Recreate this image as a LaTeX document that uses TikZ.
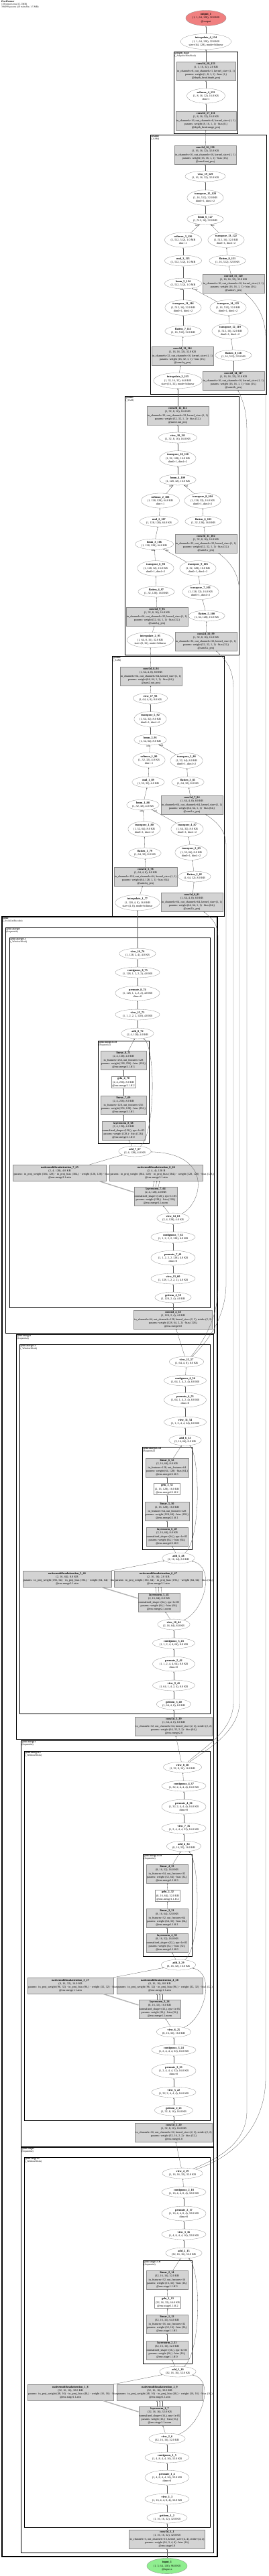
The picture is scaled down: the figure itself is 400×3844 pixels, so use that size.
\documentclass[tikz,border=0pt]{standalone}
\usepackage{fontspec}
\setmainfont{Liberation Serif}
\usetikzlibrary{arrows.meta,shapes.geometric}
\definecolor{gvgray}{HTML}{D3D3D3}
\definecolor{gvline}{HTML}{8C8C8C}
\definecolor{gvred}{HTML}{F08080}
\definecolor{gvgreen}{HTML}{90EE90}
\newcommand{\gfont}{\fontsize{4.2}{5.2}\selectfont}
\newcommand{\lblfont}{\fontsize{3.6}{4.1}\selectfont}

\begin{document}
\begin{tikzpicture}[x=1pt, y=-1pt, every node/.style={font=\gfont},
    opnode/.style={ellipse, draw=gvline, fill=white, line width=0.3pt, inner xsep=1.2pt, inner ysep=1.1pt, align=center},
    modbox/.style={rectangle, draw=gvline, fill=gvgray, line width=0.3pt, inner xsep=1pt, inner ysep=1.6pt, align=center},
    actbox/.style={rectangle, draw=gvline, fill=white, line width=0.3pt, inner xsep=1.5pt, inner ysep=1.4pt, align=center},
    attnbox/.style={modbox, minimum height=24pt},
    cluster/.style={draw=black, line width=1pt},
    clusterlbl/.style={anchor=north west, align=left, inner sep=0.6pt, font=\lblfont},
    edge/.style={-{Latex[length=1.8pt,width=1.5pt]}, line width=0.3pt, draw=black!65},
    bundle/.style={edge, line width=1.4pt, draw=gray!60},
    elbl/.style={font=\lblfont, inner sep=0.2pt}]
    \useasboundingbox (0,0) rectangle (400,3844);

    \node[anchor=north west, align=left, inner sep=0pt, font=\lblfont] (title) at (2,1) {\textbf{PixelFormer}\\136 tensors total (5.5 MB)\\394299 params (all trainable; 1.5 MB)};

    % clusters
    \draw[cluster] (259,77) rectangle (354,199);
    \node[clusterlbl] (c-head) at (259.5,77.5) {\textbf{@depth\_head}\\(\_AdaptiveBinsHead)};
    \draw[cluster] (224,201) rectangle (397,588);
    \node[clusterlbl] (c-sam4) at (224.5,201.5) {\textbf{@sam4}\\(\_SAM)};
    \draw[cluster] (186,591) rectangle (356,977);
    \node[clusterlbl] (c-sam3) at (186.5,591.5) {\textbf{@sam3}\\(\_SAM)};
    \draw[cluster] (167,979) rectangle (334,1367);
    \node[clusterlbl] (c-sam2) at (167.5,979.5) {\textbf{@sam2}\\(\_SAM)};
    \draw[cluster, line width=1.3pt] (3,1368) rectangle (324,3815);
    \node[clusterlbl] (c-enc) at (3.5,1368.5) {\textbf{@enc}\\(\_SwinLiteEncoder)};
    \draw[cluster] (8,1384) rectangle (319,1989);
    \node[clusterlbl] (c-m3) at (8.5,1384.5) {\textbf{@enc.merge3}\\(Sequential)};
    \draw[cluster] (14,1399) rectangle (313,1951);
    \node[clusterlbl] (c-m31) at (14.5,1399.5) {\textbf{@enc.merge3.1}\\(\_WindowBlock)};
    \draw[cluster] (146,1553) rectangle (222,1706);
    \node[clusterlbl] (c-m3ff) at (146.5,1553.5) {\textbf{@enc.merge3.1.ff}\\(Sequential)};
    \draw[cluster] (24,1991) rectangle (318,2595);
    \node[clusterlbl] (c-m2) at (24.5,1991.5) {\textbf{@enc.merge2}\\(Sequential)};
    \draw[cluster] (29,2006) rectangle (313,2557);
    \node[clusterlbl] (c-m21) at (29.5,2006.5) {\textbf{@enc.merge2.1}\\(\_WindowBlock)};
    \draw[cluster] (212,2159) rectangle (286,2312);
    \node[clusterlbl] (c-m2ff) at (212.5,2159.5) {\textbf{@enc.merge2.1.ff}\\(Sequential)};
    \draw[cluster] (31,2597) rectangle (318,3203);
    \node[clusterlbl] (c-m1) at (31.5,2597.5) {\textbf{@enc.merge1}\\(Sequential)};
    \draw[cluster] (36,2613) rectangle (313,3164);
    \node[clusterlbl] (c-m11) at (36.5,2613.5) {\textbf{@enc.merge1.1}\\(\_WindowBlock)};
    \draw[cluster] (213,2767) rectangle (286,2919);
    \node[clusterlbl] (c-m1ff) at (213.5,2767.5) {\textbf{@enc.merge1.1.ff}\\(Sequential)};
    \draw[cluster] (31,3204) rectangle (318,3809);
    \node[clusterlbl] (c-s1) at (31.5,3204.5) {\textbf{@enc.stage1}\\(Sequential)};
    \draw[cluster] (36,3219) rectangle (313,3771);
    \node[clusterlbl] (c-s11) at (36.5,3219.5) {\textbf{@enc.stage1.1}\\(\_WindowBlock)};
    \draw[cluster] (213,3373) rectangle (286,3527);
    \node[clusterlbl] (c-s1ff) at (213.5,3373.5) {\textbf{@enc.stage1.1.ff}\\(Sequential)};

    % head and output
    \node[opnode, fill=gvred] (out1) at (307,27) {\textbf{output\_1}\\(1, 1, 64, 128), 32.0 KB\\@output};
    \node[opnode] (interp4) at (307,62) {\textbf{interpolate\_4\_134}\\(1, 1, 64, 128), 32.0 KB\\size=(64, 128), mode=bilinear};
    \node[modbox] (conv18) at (307,106) {\textbf{conv2d\_18\_133}\\(1, 1, 16, 32), 2.0 KB\\in\_channels=8, out\_channels=1, kernel\_size=(1, 1)\\params: weight (1, 8, 1, 1) · bias (1,)\\@depth\_head.depth\_proj};
    \node[opnode] (softmax4) at (307,143) {\textbf{softmax\_4\_132}\\(1, 8, 16, 32), 16.0 KB\\dim=1};
    \node[modbox] (conv17) at (307,180) {\textbf{conv2d\_17\_131}\\(1, 8, 16, 32), 16.0 KB\\in\_channels=16, out\_channels=8, kernel\_size=(1, 1)\\params: weight (8, 16, 1, 1) · bias (8,)\\@depth\_head.range\_proj};

    % sam4
    \node[modbox] (conv16) at (306,231) {\textbf{conv2d\_16\_130}\\(1, 16, 16, 32), 32.0 KB\\in\_channels=16, out\_channels=16, kernel\_size=(1, 1)\\params: weight (16, 16, 1, 1) · bias (16,)\\@sam4.out\_proj};
    \node[opnode] (view19) at (306,263) {\textbf{view\_19\_129}\\(1, 16, 16, 32), 32.0 KB};
    \node[opnode] (tr15) at (306,295) {\textbf{transpose\_15\_128}\\(1, 16, 512), 32.0 KB\\dim0=1, dim1=2};
    \node[opnode] (bmm6) at (306,327) {\textbf{bmm\_6\_127}\\(1, 512, 16), 32.0 KB};
    \node[opnode] (sm3) at (273,358) {\textbf{softmax\_3\_126}\\(1, 512, 512), 1.0 MB\\dim=-1};
    \node[opnode] (tr13) at (337,358) {\textbf{transpose\_13\_122}\\(1, 512, 16), 32.0 KB\\dim0=1, dim1=2};
    \node[opnode] (mul3) at (273,389) {\textbf{mul\_3\_125}\\(1, 512, 512), 1.0 MB};
    \node[opnode] (fl9) at (339,389) {\textbf{flatten\_9\_121}\\(1, 16, 512), 32.0 KB};
    \node[opnode] (bmm5) at (273,423) {\textbf{bmm\_5\_124}\\(1, 512, 512), 1.0 MB};
    \node[modbox] (conv15) at (348,423) {\textbf{conv2d\_15\_120}\\(1, 16, 16, 32), 32.0 KB\\in\_channels=16, out\_channels=16, kernel\_size=(1, 1)\\params: weight (16, 16, 1, 1) · bias (16,)\\@sam4.v\_proj};
    \node[opnode] (tr11) at (273,459) {\textbf{transpose\_11\_116}\\(1, 512, 16), 32.0 KB\\dim0=1, dim1=2};
    \node[opnode] (tr14) at (340,459) {\textbf{transpose\_14\_123}\\(1, 16, 512), 32.0 KB\\dim0=1, dim1=2};
    \node[opnode] (fl7) at (273,494) {\textbf{flatten\_7\_115}\\(1, 16, 512), 32.0 KB};
    \node[opnode] (tr12) at (343,494) {\textbf{transpose\_12\_119}\\(1, 512, 16), 32.0 KB\\dim0=1, dim1=2};
    \node[modbox] (conv13) at (272,531) {\textbf{conv2d\_13\_114}\\(1, 16, 16, 32), 32.0 KB\\in\_channels=32, out\_channels=16, kernel\_size=(1, 1)\\params: weight (16, 32, 1, 1) · bias (16,)\\@sam4.q\_proj};
    \node[opnode] (fl8) at (348,530) {\textbf{flatten\_8\_118}\\(1, 16, 512), 32.0 KB};
    \node[opnode] (interp3) at (265,568) {\textbf{interpolate\_3\_113}\\(1, 32, 16, 32), 64.0 KB\\size=(16, 32), mode=bilinear};
    \node[modbox] (conv14) at (348,568) {\textbf{conv2d\_14\_117}\\(1, 16, 16, 32), 32.0 KB\\in\_channels=16, out\_channels=16, kernel\_size=(1, 1)\\params: weight (16, 16, 1, 1) · bias (16,)\\@sam4.k\_proj};

    % sam3
    \node[modbox] (conv12) at (265,620) {\textbf{conv2d\_12\_112}\\(1, 32, 8, 16), 16.0 KB\\in\_channels=32, out\_channels=32, kernel\_size=(1, 1)\\params: weight (32, 32, 1, 1) · bias (32,)\\@sam3.out\_proj};
    \node[opnode] (view18) at (265,653) {\textbf{view\_18\_111}\\(1, 32, 8, 16), 16.0 KB};
    \node[opnode] (tr10) at (265,684) {\textbf{transpose\_10\_110}\\(1, 32, 128), 16.0 KB\\dim0=1, dim1=2};
    \node[opnode] (bmm4) at (265,716) {\textbf{bmm\_4\_109}\\(1, 128, 32), 16.0 KB};
    \node[opnode] (sm2) at (239,747) {\textbf{softmax\_2\_108}\\(1, 128, 128), 64.0 KB\\dim=-1};
    \node[opnode] (tr8) at (302,747) {\textbf{transpose\_8\_104}\\(1, 128, 32), 16.0 KB\\dim0=1, dim1=2};
    \node[opnode] (mul2) at (237,778) {\textbf{mul\_2\_107}\\(1, 128, 128), 64.0 KB};
    \node[opnode] (fl6) at (303,778) {\textbf{flatten\_6\_103}\\(1, 32, 128), 16.0 KB};
    \node[opnode] (bmm3) at (230,812) {\textbf{bmm\_3\_106}\\(1, 128, 128), 64.0 KB};
    \node[modbox] (conv11) at (307,811) {\textbf{conv2d\_11\_102}\\(1, 32, 8, 16), 16.0 KB\\in\_channels=32, out\_channels=32, kernel\_size=(1, 1)\\params: weight (32, 32, 1, 1) · bias (32,)\\@sam3.v\_proj};
    \node[opnode] (tr6) at (232,848) {\textbf{transpose\_6\_98}\\(1, 128, 32), 16.0 KB\\dim0=1, dim1=2};
    \node[opnode] (tr9) at (295,848) {\textbf{transpose\_9\_105}\\(1, 32, 128), 16.0 KB\\dim0=1, dim1=2};
    \node[opnode] (fl4) at (233,883) {\textbf{flatten\_4\_97}\\(1, 32, 128), 16.0 KB};
    \node[opnode] (tr7) at (299,883) {\textbf{transpose\_7\_101}\\(1, 128, 32), 16.0 KB\\dim0=1, dim1=2};
    \node[modbox] (conv9) at (234,920) {\textbf{conv2d\_9\_96}\\(1, 32, 8, 16), 16.0 KB\\in\_channels=64, out\_channels=32, kernel\_size=(1, 1)\\params: weight (32, 64, 1, 1) · bias (32,)\\@sam3.q\_proj};
    \node[opnode] (fl5) at (308,919) {\textbf{flatten\_5\_100}\\(1, 32, 128), 16.0 KB};
    \node[opnode] (interp2) at (224,955) {\textbf{interpolate\_2\_95}\\(1, 64, 8, 16), 32.0 KB\\size=(8, 16), mode=bilinear};
    \node[modbox] (conv10) at (307,957) {\textbf{conv2d\_10\_99}\\(1, 32, 8, 16), 16.0 KB\\in\_channels=32, out\_channels=32, kernel\_size=(1, 1)\\params: weight (32, 32, 1, 1) · bias (32,)\\@sam3.k\_proj};

    % sam2
    \node[modbox] (conv8) at (225,1009) {\textbf{conv2d\_8\_94}\\(1, 64, 4, 8), 8.0 KB\\in\_channels=64, out\_channels=64, kernel\_size=(1, 1)\\params: weight (64, 64, 1, 1) · bias (64,)\\@sam2.out\_proj};
    \node[opnode] (view17) at (224,1042) {\textbf{view\_17\_93}\\(1, 64, 4, 8), 8.0 KB};
    \node[opnode] (tr5) at (224,1073) {\textbf{transpose\_5\_92}\\(1, 64, 32), 8.0 KB\\dim0=1, dim1=2};
    \node[opnode] (bmm2) at (224,1104) {\textbf{bmm\_2\_91}\\(1, 32, 64), 8.0 KB};
    \node[opnode] (sm1) at (222,1134) {\textbf{softmax\_1\_90}\\(1, 32, 32), 4.0 KB\\dim=-1};
    \node[opnode] (tr3) at (278,1135) {\textbf{transpose\_3\_86}\\(1, 32, 64), 8.0 KB\\dim0=1, dim1=2};
    \node[opnode] (mul1) at (221,1167) {\textbf{mul\_1\_89}\\(1, 32, 32), 4.0 KB};
    \node[opnode] (fl3) at (280,1167) {\textbf{flatten\_3\_85}\\(1, 64, 32), 8.0 KB};
    \node[opnode] (bmm1) at (213,1201) {\textbf{bmm\_1\_88}\\(1, 32, 32), 4.0 KB};
    \node[modbox] (conv7) at (286,1201) {\textbf{conv2d\_7\_84}\\(1, 64, 4, 8), 8.0 KB\\in\_channels=64, out\_channels=64, kernel\_size=(1, 1)\\params: weight (64, 64, 1, 1) · bias (64,)\\@sam2.v\_proj};
    \node[opnode] (tr1) at (215,1237) {\textbf{transpose\_1\_80}\\(1, 32, 64), 8.0 KB\\dim0=1, dim1=2};
    \node[opnode] (tr4) at (279,1237) {\textbf{transpose\_4\_87}\\(1, 64, 32), 8.0 KB\\dim0=1, dim1=2};
    \node[opnode] (fl1) at (216,1273) {\textbf{flatten\_1\_79}\\(1, 64, 32), 8.0 KB};
    \node[opnode] (tr2) at (285,1272) {\textbf{transpose\_2\_83}\\(1, 32, 64), 8.0 KB\\dim0=1, dim1=2};
    \node[modbox] (conv5) at (217,1308) {\textbf{conv2d\_5\_78}\\(1, 64, 4, 8), 8.0 KB\\in\_channels=128, out\_channels=64, kernel\_size=(1, 1)\\params: weight (64, 128, 1, 1) · bias (64,)\\@sam2.q\_proj};
    \node[opnode] (fl2) at (290,1308) {\textbf{flatten\_2\_82}\\(1, 64, 32), 8.0 KB};
    \node[opnode] (interp1) at (205,1347) {\textbf{interpolate\_1\_77}\\(1, 128, 4, 8), 16.0 KB\\size=(4, 8), mode=bilinear};
    \node[modbox] (conv6) at (286,1346) {\textbf{conv2d\_6\_81}\\(1, 64, 4, 8), 8.0 KB\\in\_channels=64, out\_channels=64, kernel\_size=(1, 1)\\params: weight (64, 64, 1, 1) · bias (64,)\\@sam2.k\_proj};

    % enc.merge3
    \node[opnode] (view16) at (205,1423) {\textbf{view\_16\_76}\\(1, 128, 2, 4), 4.0 KB};
    \node[opnode] (cont8) at (205,1451) {\textbf{contiguous\_8\_75}\\(1, 128, 1, 2, 2, 2), 4.0 KB};
    \node[opnode] (perm8) at (205,1482) {\textbf{permute\_8\_74}\\(1, 128, 1, 2, 2, 2), 4.0 KB\\dims=0};
    \node[opnode] (view15) at (205,1514) {\textbf{view\_15\_73}\\(1, 1, 2, 2, 2, 128), 4.0 KB};
    \node[opnode] (add8) at (205,1542) {\textbf{add\_8\_72}\\(2, 4, 128), 4.0 KB};
    \node[modbox] (lin8) at (184,1582) {\textbf{linear\_8\_71}\\(2, 4, 128), 4.0 KB\\in\_features=256, out\_features=128\\params: weight (128, 256) · bias (128,)\\@enc.merge3.1.ff.3};
    \node[actbox] (gelu4) at (184,1615) {\textbf{gelu\_4\_70}\\(2, 4, 256), 8.0 KB\\@enc.merge3.1.ff.2};
    \node[modbox] (lin7) at (184,1649) {\textbf{linear\_7\_69}\\(2, 4, 256), 8.0 KB\\in\_features=128, out\_features=256\\params: weight (256, 128) · bias (256,)\\@enc.merge3.1.ff.1};
    \node[modbox] (ln8) at (184,1687) {\textbf{layernorm\_8\_68}\\(2, 4, 128), 4.0 KB\\normalized\_shape=(128,), eps=1e-05\\params: weight (128,) · bias (128,)\\@enc.merge3.1.ff.0};
    \node[opnode] (add7) at (201,1718) {\textbf{add\_7\_67}\\(2, 4, 128), 4.0 KB};
    \node[attnbox, text width=137pt] (mha7) at (89,1750) {\textbf{nativemultiheadattention\_7\_65}\\(2, 4, 128), 4.0 KB\\\makebox[\linewidth][l]{params: in\_proj\_weight (384, 128) · in\_proj\_bias (384,) · weight (128, 128) · bias (128,)}\\@enc.merge3.1.attn};
    \node[attnbox, text width=137pt] (mha8) at (233,1750) {\textbf{nativemultiheadattention\_8\_66}\\(2, 4, 4), 128 B\\\makebox[\linewidth][l]{params: in\_proj\_weight (384, 128) · in\_proj\_bias (384,) · weight (128, 128) · bias (128,)}\\@enc.merge3.1.attn};
    \node[modbox] (ln7) at (232,1785) {\textbf{layernorm\_7\_64}\\(2, 4, 128), 4.0 KB\\normalized\_shape=(128,), eps=1e-05\\params: weight (128,) · bias (128,)\\@enc.merge3.1.norm};
    \node[opnode] (view14) at (258,1818) {\textbf{view\_14\_63}\\(2, 4, 128), 4.0 KB};
    \node[opnode] (cont7) at (258,1846) {\textbf{contiguous\_7\_62}\\(1, 1, 2, 2, 2, 128), 4.0 KB};
    \node[opnode] (perm7) at (258,1877) {\textbf{permute\_7\_61}\\(1, 1, 2, 2, 2, 128), 4.0 KB\\dims=0};
    \node[opnode] (view13) at (258,1908) {\textbf{view\_13\_60}\\(1, 128, 1, 2, 2, 2), 4.0 KB};
    \node[opnode] (getitem4) at (258,1936) {\textbf{getitem\_4\_59}\\(1, 128, 2, 4), 4.0 KB};
    \node[modbox] (conv4) at (258,1969) {\textbf{conv2d\_4\_58}\\(1, 128, 2, 4), 4.0 KB\\in\_channels=64, out\_channels=128, kernel\_size=(2, 2), stride=(2, 2)\\params: weight (128, 64, 2, 2) · bias (128,)\\@enc.merge3.0};

    % enc.merge2
    \node[opnode] (view12) at (278,2032) {\textbf{view\_12\_57}\\(1, 64, 4, 8), 8.0 KB};
    \node[opnode] (cont6) at (276,2060) {\textbf{contiguous\_6\_56}\\(1, 64, 1, 4, 2, 4), 8.0 KB};
    \node[opnode] (perm6) at (276,2089) {\textbf{permute\_6\_55}\\(1, 64, 1, 4, 2, 4), 8.0 KB\\dims=0};
    \node[opnode] (view11) at (276,2122) {\textbf{view\_11\_54}\\(1, 1, 2, 4, 4, 64), 8.0 KB};
    \node[opnode] (add6) at (276,2149) {\textbf{add\_6\_53}\\(2, 16, 64), 8.0 KB};
    \node[modbox] (lin6) at (249,2190) {\textbf{linear\_6\_52}\\(2, 16, 64), 8.0 KB\\in\_features=128, out\_features=64\\params: weight (64, 128) · bias (64,)\\@enc.merge2.1.ff.3};
    \node[actbox] (gelu3) at (249,2222) {\textbf{gelu\_3\_51}\\(2, 16, 128), 16.0 KB\\@enc.merge2.1.ff.2};
    \node[modbox] (lin5) at (249,2255) {\textbf{linear\_5\_50}\\(2, 16, 128), 16.0 KB\\in\_features=64, out\_features=128\\params: weight (128, 64) · bias (128,)\\@enc.merge2.1.ff.1};
    \node[modbox] (ln6) at (249,2293) {\textbf{layernorm\_6\_49}\\(2, 16, 64), 8.0 KB\\normalized\_shape=(64,), eps=1e-05\\params: weight (64,) · bias (64,)\\@enc.merge2.1.ff.0};
    \node[opnode] (add5) at (266,2325) {\textbf{add\_5\_48}\\(2, 16, 64), 8.0 KB};
    \node[attnbox, text width=130pt] (mha5) at (100,2356) {\textbf{nativemultiheadattention\_5\_46}\\(2, 16, 64), 8.0 KB\\\makebox[\linewidth][l]{params: in\_proj\_weight (192, 64) · in\_proj\_bias (192,) · weight (64, 64) · bias (64,)}\\@enc.merge2.1.attn};
    \node[attnbox, text width=129pt] (mha6) at (236,2356) {\textbf{nativemultiheadattention\_6\_47}\\(2, 16, 16), 2.0 KB\\\makebox[\linewidth][l]{params: in\_proj\_weight (192, 64) · in\_proj\_bias (192,) · weight (64, 64) · bias (64,)}\\@enc.merge2.1.attn};
    \node[modbox] (ln5) at (237,2391) {\textbf{layernorm\_5\_45}\\(2, 16, 64), 8.0 KB\\normalized\_shape=(64,), eps=1e-05\\params: weight (64,) · bias (64,)\\@enc.merge2.1.norm};
    \node[opnode] (view10) at (259,2424) {\textbf{view\_10\_44}\\(2, 16, 64), 8.0 KB};
    \node[opnode] (cont5) at (259,2452) {\textbf{contiguous\_5\_43}\\(1, 1, 2, 4, 4, 64), 8.0 KB};
    \node[opnode] (perm5) at (259,2483) {\textbf{permute\_5\_42}\\(1, 1, 2, 4, 4, 64), 8.0 KB\\dims=0};
    \node[opnode] (view9) at (259,2515) {\textbf{view\_9\_41}\\(1, 64, 1, 4, 2, 4), 8.0 KB};
    \node[opnode] (getitem3) at (259,2543) {\textbf{getitem\_3\_40}\\(1, 64, 4, 8), 8.0 KB};
    \node[modbox] (conv3) at (259,2576) {\textbf{conv2d\_3\_39}\\(1, 64, 4, 8), 8.0 KB\\in\_channels=32, out\_channels=64, kernel\_size=(2, 2), stride=(2, 2)\\params: weight (64, 32, 2, 2) · bias (64,)\\@enc.merge2.0};

    % enc.merge1
    \node[opnode] (view8) at (272,2637) {\textbf{view\_8\_38}\\(1, 32, 8, 16), 16.0 KB};
    \node[opnode] (cont4) at (274,2665) {\textbf{contiguous\_4\_37}\\(1, 32, 2, 4, 4, 4), 16.0 KB};
    \node[opnode] (perm4) at (274,2696) {\textbf{permute\_4\_36}\\(1, 32, 2, 4, 4, 4), 16.0 KB\\dims=0};
    \node[opnode] (view7) at (274,2728) {\textbf{view\_7\_35}\\(1, 2, 4, 4, 4, 32), 16.0 KB};
    \node[opnode] (add4) at (274,2755) {\textbf{add\_4\_34}\\(8, 16, 32), 16.0 KB};
    \node[modbox] (lin4) at (249,2796) {\textbf{linear\_4\_33}\\(8, 16, 32), 16.0 KB\\in\_features=64, out\_features=32\\params: weight (32, 64) · bias (32,)\\@enc.merge1.1.ff.3};
    \node[actbox] (gelu2) at (250,2829) {\textbf{gelu\_2\_32}\\(8, 16, 64), 32.0 KB\\@enc.merge1.1.ff.2};
    \node[modbox] (lin3) at (249,2862) {\textbf{linear\_3\_31}\\(8, 16, 64), 32.0 KB\\in\_features=32, out\_features=64\\params: weight (64, 32) · bias (64,)\\@enc.merge1.1.ff.1};
    \node[modbox] (ln4) at (249,2899) {\textbf{layernorm\_4\_30}\\(8, 16, 32), 16.0 KB\\normalized\_shape=(32,), eps=1e-05\\params: weight (32,) · bias (32,)\\@enc.merge1.1.ff.0};
    \node[opnode] (add3) at (266,2932) {\textbf{add\_3\_29}\\(8, 16, 32), 16.0 KB};
    \node[attnbox, text width=126pt] (mha3) at (105,2963) {\textbf{nativemultiheadattention\_3\_27}\\(8, 16, 32), 16.0 KB\\\makebox[\linewidth][l]{params: in\_proj\_weight (96, 32) · in\_proj\_bias (96,) · weight (32, 32) · bias (32,)}\\@enc.merge1.1.attn};
    \node[attnbox, text width=126pt] (mha4) at (238,2963) {\textbf{nativemultiheadattention\_4\_28}\\(8, 16, 16), 8.0 KB\\\makebox[\linewidth][l]{params: in\_proj\_weight (96, 32) · in\_proj\_bias (96,) · weight (32, 32) · bias (32,)}\\@enc.merge1.1.attn};
    \node[modbox] (ln3) at (238,2998) {\textbf{layernorm\_3\_26}\\(8, 16, 32), 16.0 KB\\normalized\_shape=(32,), eps=1e-05\\params: weight (32,) · bias (32,)\\@enc.merge1.1.norm};
    \node[opnode] (view6) at (259,3032) {\textbf{view\_6\_25}\\(8, 16, 32), 16.0 KB};
    \node[opnode] (cont3) at (259,3059) {\textbf{contiguous\_3\_24}\\(1, 2, 4, 4, 4, 32), 16.0 KB};
    \node[opnode] (perm3) at (259,3090) {\textbf{permute\_3\_23}\\(1, 2, 4, 4, 4, 32), 16.0 KB\\dims=0};
    \node[opnode] (view5) at (259,3122) {\textbf{view\_5\_22}\\(1, 32, 2, 4, 4, 4), 16.0 KB};
    \node[opnode] (getitem2) at (259,3149) {\textbf{getitem\_2\_21}\\(1, 32, 8, 16), 16.0 KB};
    \node[modbox] (conv2) at (259,3182) {\textbf{conv2d\_2\_20}\\(1, 32, 8, 16), 16.0 KB\\in\_channels=16, out\_channels=32, kernel\_size=(2, 2), stride=(2, 2)\\params: weight (32, 16, 2, 2) · bias (32,)\\@enc.merge1.0};

    % enc.stage1
    \node[opnode] (view4) at (272,3243) {\textbf{view\_4\_19}\\(1, 16, 16, 32), 32.0 KB};
    \node[opnode] (cont2) at (274,3271) {\textbf{contiguous\_2\_18}\\(1, 16, 4, 4, 8, 4), 32.0 KB};
    \node[opnode] (perm2) at (274,3303) {\textbf{permute\_2\_17}\\(1, 16, 4, 4, 8, 4), 32.0 KB\\dims=0};
    \node[opnode] (view3) at (274,3334) {\textbf{view\_3\_16}\\(1, 4, 8, 4, 4, 16), 32.0 KB};
    \node[opnode] (add2) at (274,3362) {\textbf{add\_2\_15}\\(32, 16, 16), 32.0 KB};
    \node[modbox] (lin2) at (249,3402) {\textbf{linear\_2\_14}\\(32, 16, 16), 32.0 KB\\in\_features=32, out\_features=16\\params: weight (16, 32) · bias (16,)\\@enc.stage1.1.ff.3};
    \node[actbox] (gelu1) at (250,3436) {\textbf{gelu\_1\_13}\\(32, 16, 32), 64.0 KB\\@enc.stage1.1.ff.2};
    \node[modbox] (lin1) at (249,3468) {\textbf{linear\_1\_12}\\(32, 16, 32), 64.0 KB\\in\_features=16, out\_features=32\\params: weight (32, 16) · bias (32,)\\@enc.stage1.1.ff.1};
    \node[modbox] (ln2) at (249,3507) {\textbf{layernorm\_2\_11}\\(32, 16, 16), 32.0 KB\\normalized\_shape=(16,), eps=1e-05\\params: weight (16,) · bias (16,)\\@enc.stage1.1.ff.0};
    \node[opnode] (add1) at (265,3539) {\textbf{add\_1\_10}\\(32, 16, 16), 32.0 KB};
    \node[attnbox, text width=126pt] (mha1) at (105,3570) {\textbf{nativemultiheadattention\_1\_8}\\(32, 16, 16), 32.0 KB\\\makebox[\linewidth][l]{params: in\_proj\_weight (48, 16) · in\_proj\_bias (48,) · weight (16, 16) · bias (16,)}\\@enc.stage1.1.attn};
    \node[attnbox, text width=126pt] (mha2) at (238,3570) {\textbf{nativemultiheadattention\_2\_9}\\(32, 16, 16), 32.0 KB\\\makebox[\linewidth][l]{params: in\_proj\_weight (48, 16) · in\_proj\_bias (48,) · weight (16, 16) · bias (16,)}\\@enc.stage1.1.attn};
    \node[modbox] (ln1) at (238,3605) {\textbf{layernorm\_1\_7}\\(32, 16, 16), 32.0 KB\\normalized\_shape=(16,), eps=1e-05\\params: weight (16,) · bias (16,)\\@enc.stage1.1.norm};
    \node[opnode] (view2) at (249,3639) {\textbf{view\_2\_6}\\(32, 16, 16), 32.0 KB};
    \node[opnode] (cont1) at (249,3667) {\textbf{contiguous\_1\_5}\\(1, 4, 8, 4, 4, 16), 32.0 KB};
    \node[opnode] (perm1) at (249,3697) {\textbf{permute\_1\_4}\\(1, 4, 8, 4, 4, 16), 32.0 KB\\dims=0};
    \node[opnode] (view1) at (249,3729) {\textbf{view\_1\_3}\\(1, 16, 4, 4, 8, 4), 32.0 KB};
    \node[opnode] (getitem1) at (249,3757) {\textbf{getitem\_1\_2}\\(1, 16, 16, 32), 32.0 KB};
    \node[modbox] (conv1) at (249,3789) {\textbf{conv2d\_1\_1}\\(1, 16, 16, 32), 32.0 KB\\in\_channels=3, out\_channels=16, kernel\_size=(4, 4), stride=(4, 4)\\params: weight (16, 3, 4, 4) · bias (16,)\\@enc.stage1.0};
    \node[opnode, fill=gvgreen] (input1) at (249,3829) {\textbf{input\_1}\\(1, 3, 64, 128), 96.0 KB\\@input.x};

    % stage1 edges
    \draw[edge] (input1) -- (conv1);
    \draw[edge] (conv1) -- (getitem1);
    \draw[edge] (getitem1) -- (view1);
    \draw[edge] (view1) -- (perm1);
    \draw[edge] (perm1) -- (cont1);
    \draw[edge] (cont1) -- (view2);
    \draw[edge] (view2) -- (ln1);
    \draw[edge] (view2) .. controls (300,3620) and (322,3552) .. (add1);
    \draw[bundle] ([yshift=6pt]ln1.west) -- ([xshift=-16pt]mha1.south east);
    \draw[edge] ([xshift=-4pt]ln1.north) -- ([xshift=-4pt]mha2.south);
    \draw[edge] (ln1.north) -- (mha2.south);
    \draw[edge] ([xshift=4pt]ln1.north) -- ([xshift=4pt]mha2.south);
    \draw[edge] (mha1.north east) -- (add1);
    \draw[edge] (add1) -- (ln2);
    \draw[edge] (ln2) -- (lin1);
    \draw[edge] (lin1) -- (gelu1);
    \draw[edge] (gelu1) -- (lin2);
    \draw[edge] (lin2) -- (add2);
    \draw[edge] (add1) .. controls (300,3510) and (300,3390) .. (add2);
    \draw[edge] (add2) -- (view3);
    \draw[edge] (view3) -- (perm2);
    \draw[edge] (perm2) -- (cont2);
    \draw[edge] (cont2) -- (view4);
    \draw[edge] (view4) -- (conv2);

    % merge1 edges
    \draw[edge] (conv2) -- (getitem2);
    \draw[edge] (getitem2) -- (view5);
    \draw[edge] (view5) -- (perm3);
    \draw[edge] (perm3) -- (cont3);
    \draw[edge] (cont3) -- (view6);
    \draw[edge] (view6) -- (ln3);
    \draw[edge] (view6) .. controls (305,3012) and (322,2945) .. (add3);
    \draw[bundle] ([yshift=6pt]ln3.west) -- ([xshift=-16pt]mha3.south east);
    \draw[edge] ([xshift=-4pt]ln3.north) -- ([xshift=-4pt]mha4.south);
    \draw[edge] (ln3.north) -- (mha4.south);
    \draw[edge] ([xshift=4pt]ln3.north) -- ([xshift=4pt]mha4.south);
    \draw[edge] (mha3.north east) -- (add3);
    \draw[edge] (add3) -- (ln4);
    \draw[edge] (ln4) -- (lin3);
    \draw[edge] (lin3) -- (gelu2);
    \draw[edge] (gelu2) -- (lin4);
    \draw[edge] (lin4) -- (add4);
    \draw[edge] (add3) .. controls (300,2905) and (298,2780) .. (add4);
    \draw[edge] (add4) -- (view7);
    \draw[edge] (view7) -- (perm4);
    \draw[edge] (perm4) -- (cont4);
    \draw[edge] (cont4) -- (view8);
    \draw[edge] (view8) -- (conv3);

    % merge2 edges
    \draw[edge] (conv3) -- (getitem3);
    \draw[edge] (getitem3) -- (view9);
    \draw[edge] (view9) -- (perm5);
    \draw[edge] (perm5) -- (cont5);
    \draw[edge] (cont5) -- (view10);
    \draw[edge] (view10) -- (ln5);
    \draw[edge] (view10) .. controls (305,2404) and (322,2338) .. (add5);
    \draw[bundle] ([yshift=6pt]ln5.west) -- ([xshift=-16pt]mha5.south east);
    \draw[edge] ([xshift=-4pt]ln5.north) -- ([xshift=-4pt]mha6.south);
    \draw[edge] (ln5.north) -- (mha6.south);
    \draw[edge] ([xshift=4pt]ln5.north) -- ([xshift=4pt]mha6.south);
    \draw[edge] (mha5.north east) -- (add5);
    \draw[edge] (add5) -- (ln6);
    \draw[edge] (ln6) -- (lin5);
    \draw[edge] (lin5) -- (gelu3);
    \draw[edge] (gelu3) -- (lin6);
    \draw[edge] (lin6) -- (add6);
    \draw[edge] (add5) .. controls (300,2298) and (298,2175) .. (add6);
    \draw[edge] (add6) -- (view11);
    \draw[edge] (view11) -- (perm6);
    \draw[edge] (perm6) -- (cont6);
    \draw[edge] (cont6) -- (view12);
    \draw[edge] (view12) -- (conv4);

    % merge3 edges
    \draw[edge] (conv4) -- (getitem4);
    \draw[edge] (getitem4) -- (view13);
    \draw[edge] (view13) -- (perm7);
    \draw[edge] (perm7) -- (cont7);
    \draw[edge] (cont7) -- (view14);
    \draw[edge] (view14) -- (ln7);
    \draw[edge] (view14) .. controls (302,1795) and (318,1722) .. (add7);
    \draw[bundle] ([yshift=6pt]ln7.west) -- ([xshift=-12pt]mha7.south east);
    \draw[edge] ([xshift=-4pt]ln7.north) -- ([xshift=-3pt]mha8.south);
    \draw[edge] (ln7.north) -- ([xshift=1pt]mha8.south);
    \draw[edge] ([xshift=4pt]ln7.north) -- ([xshift=5pt]mha8.south);
    \draw[edge] ([xshift=-25pt]mha7.north east) -- (add7);
    \draw[edge] (add7) -- (ln8);
    \draw[edge] (ln8) -- (lin7);
    \draw[edge] (lin7) -- (gelu4);
    \draw[edge] (gelu4) -- (lin8);
    \draw[edge] (lin8) -- (add8);
    \draw[edge] (add7) .. controls (232,1690) and (232,1565) .. (add8);
    \draw[edge] (add8) -- (view15);
    \draw[edge] (view15) -- (perm8);
    \draw[edge] (perm8) -- (cont8);
    \draw[edge] (cont8) -- (view16);
    \draw[edge] (view16) -- (interp1);

    % sam2 edges
    \draw[edge] (interp1) -- (conv5);
    \draw[edge] (conv5) -- (fl1);
    \draw[edge] (fl1) -- (tr1);
    \draw[edge] (tr1) -- (bmm1) node[elbl, pos=0.9, left] (l-b1a) {in0};
    \draw[edge] (conv6) -- (fl2);
    \draw[edge] (fl2) -- (tr2);
    \draw[edge] (tr2) -- (tr4);
    \draw[edge] (tr4) -- (bmm1) node[elbl, pos=0.9, right] (l-b1b) {in1};
    \draw[edge] (bmm1) -- (mul1);
    \draw[edge] (mul1) -- (sm1);
    \draw[edge] (sm1) -- (bmm2) node[elbl, pos=0.9, left] (l-b2a) {in0};
    \draw[edge] (conv7) -- (fl3);
    \draw[edge] (fl3) -- (tr3);
    \draw[edge] (tr3) -- (bmm2) node[elbl, pos=0.9, right] (l-b2b) {in1};
    \draw[edge] (bmm2) -- (tr5);
    \draw[edge] (tr5) -- (view17);
    \draw[edge] (view17) -- (conv8);
    \draw[edge] (conv8) -- (interp2);

    % sam3 edges
    \draw[edge] (interp2) -- (conv9);
    \draw[edge] (conv9) -- (fl4);
    \draw[edge] (fl4) -- (tr6);
    \draw[edge] (tr6) -- (bmm3) node[elbl, pos=0.9, left] (l-b3a) {in0};
    \draw[edge] (conv10) -- (fl5);
    \draw[edge] (fl5) -- (tr7);
    \draw[edge] (tr7) -- (tr9);
    \draw[edge] (tr9) -- (bmm3) node[elbl, pos=0.9, right] (l-b3b) {in1};
    \draw[edge] (bmm3) -- (mul2);
    \draw[edge] (mul2) -- (sm2);
    \draw[edge] (sm2) -- (bmm4) node[elbl, pos=0.9, left] (l-b4a) {in0};
    \draw[edge] (conv11) -- (fl6);
    \draw[edge] (fl6) -- (tr8);
    \draw[edge] (tr8) -- (bmm4) node[elbl, pos=0.9, right] (l-b4b) {in1};
    \draw[edge] (bmm4) -- (tr10);
    \draw[edge] (tr10) -- (view18);
    \draw[edge] (view18) -- (conv12);
    \draw[edge] (conv12) -- (interp3);

    % sam4 edges
    \draw[edge] (interp3) -- (conv13);
    \draw[edge] (conv13) -- (fl7);
    \draw[edge] (fl7) -- (tr11);
    \draw[edge] (tr11) -- (bmm5) node[elbl, pos=0.9, left] (l-b5a) {in0};
    \draw[edge] (conv14) -- (fl8);
    \draw[edge] (fl8) -- (tr12);
    \draw[edge] (tr12) -- (tr14);
    \draw[edge] (tr14) -- (bmm5) node[elbl, pos=0.9, right] (l-b5b) {in1};
    \draw[edge] (bmm5) -- (mul3);
    \draw[edge] (mul3) -- (sm3);
    \draw[edge] (sm3) -- (bmm6) node[elbl, pos=0.9, left] (l-b6a) {in0};
    \draw[edge] (conv15) -- (fl9);
    \draw[edge] (fl9) -- (tr13);
    \draw[edge] (tr13) -- (bmm6) node[elbl, pos=0.9, right] (l-b6b) {in1};
    \draw[edge] (bmm6) -- (tr15);
    \draw[edge] (tr15) -- (view19);
    \draw[edge] (view19) -- (conv16);
    \draw[edge] (conv16) -- (conv17);
    \draw[edge] (conv17) -- (softmax4);
    \draw[edge] (softmax4) -- (conv18);
    \draw[edge] (conv18) -- (interp4);
    \draw[edge] (interp4) -- (out1);

    % skip connections from the encoder
    \draw[edge] (view12) .. controls (305,2000) and (325,1965) .. (325,1920) -- (325,1400) .. controls (325,1380) and (318,1372) .. (conv6);
    \draw[edge] (view12) .. controls (310,2002) and (337,1965) .. (337,1915) -- (337,1262) .. controls (337,1238) and (322,1226) .. (conv7);
    \draw[edge] (view8) .. controls (300,2610) and (348,2585) .. (348,2540) -- (348,1030) .. controls (348,1000) and (340,988) .. (conv10);
    \draw[edge] (view8) .. controls (306,2612) and (357,2585) .. (357,2540) -- (357,885) .. controls (357,855) and (342,838) .. (conv11);
    \draw[edge] (view4) .. controls (322,3222) and (368,3200) .. (368,3150) -- (368,645) .. controls (368,612) and (362,598) .. (conv14);
    \draw[edge] (view4) .. controls (332,3225) and (396,3185) .. (396,3100) -- (396,505) .. controls (396,472) and (382,452) .. (conv15);
\end{tikzpicture}
\end{document}
